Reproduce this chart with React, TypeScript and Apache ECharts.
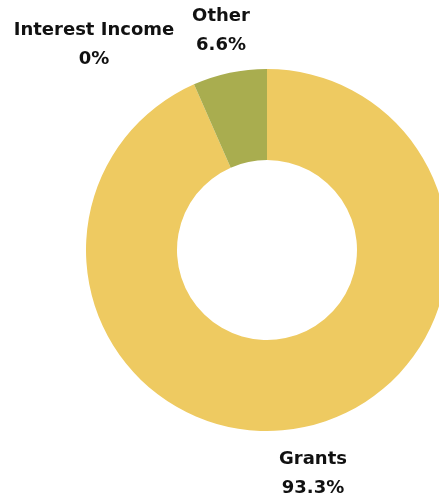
import React, { useEffect, useRef } from "react";
import * as echarts from "echarts";

const categories = ["Grants", "Other", "Interest Income"];
const values = [93.3, 6.6, 0];
const colors = ["#EECA61", "#A9AD4F", "#8C8C8C"];
const labelPositions: [number, number][] = [
  [313, 472],
  [221, 29],
  [94, 43],
];

export default function App() {
  const ref = useRef<HTMLDivElement>(null);
  useEffect(() => {
    if (!ref.current) return;
    const chart = echarts.init(ref.current, null, { renderer: "svg" });
    chart.setOption({
      animation: false,
      series: [
        {
          type: "pie",
          center: [267, 250],
          radius: [90, 181],
          startAngle: 90,
          clockwise: true,
          data: categories.map((c, i) => ({
            name: c,
            value: values[i],
            itemStyle: { color: colors[i] },
          })),
          label: {
            show: true,
            formatter: (p: any) => `${p.name}\n${p.value}%`,
            fontFamily: "DejaVu Sans",
            fontWeight: 700,
            fontSize: 18,
            lineHeight: 29,
            color: "#111111",
            align: "center",
          },
          labelLine: { show: false },
          labelLayout: (p: any) => ({
            x: labelPositions[p.dataIndex][0],
            y: labelPositions[p.dataIndex][1],
            align: "center",
            verticalAlign: "middle",
          }),
          emphasis: { disabled: true },
        },
      ],
    });
    return () => chart.dispose();
  }, []);
  return (
    <div
      ref={ref}
      style={{ position: "fixed", left: 0, top: 0, width: 439, height: 499 }}
    />
  );
}
